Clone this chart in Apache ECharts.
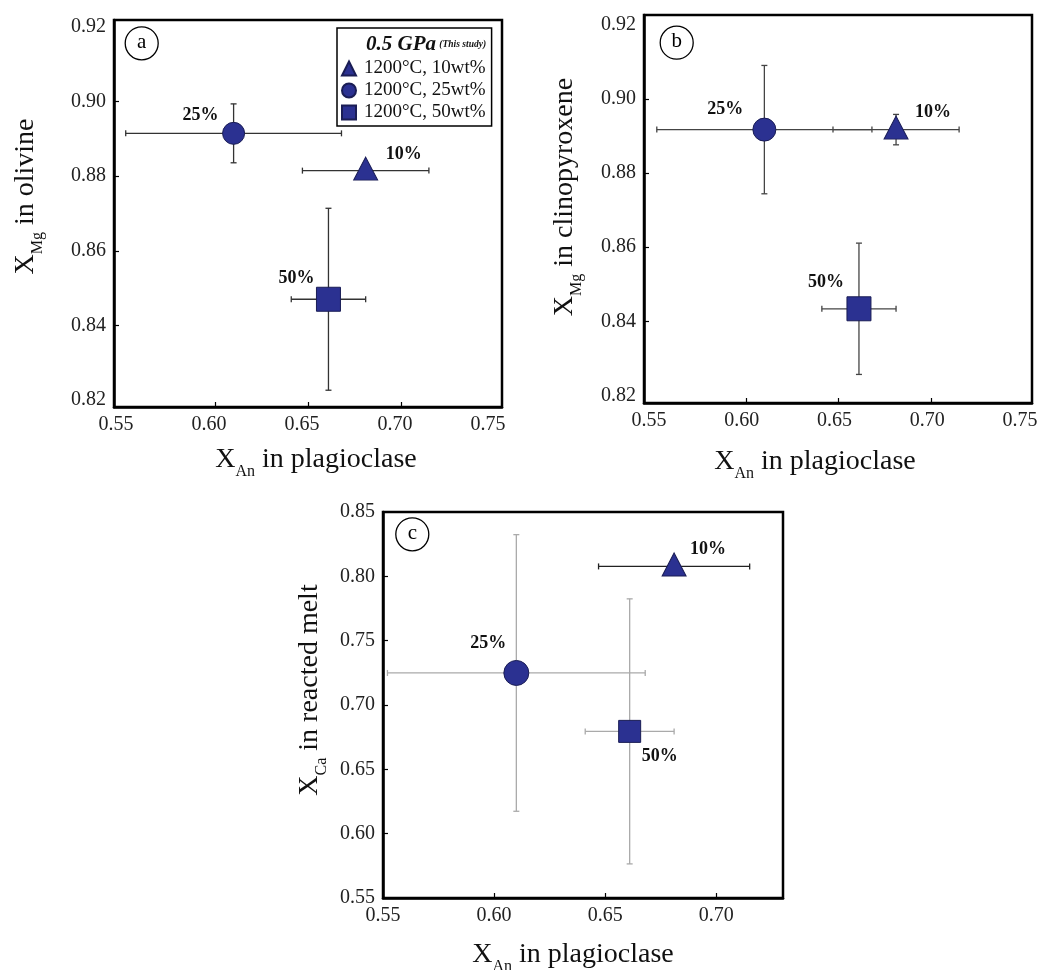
<!DOCTYPE html>
<html>
<head>
<meta charset="utf-8">
<title>XAn in plagioclase vs. XMg / XCa</title>
<script src="https://cdn.jsdelivr.net/npm/echarts@6.0.0/dist/echarts.min.js"></script>
<style>
  html, body { margin: 0; padding: 0; background: #fff; }
  #main { width: 1037px; height: 970px; }
</style>
</head>
<body>
<div id="main"></div>
<script>
  // runs in order: 10wt%, 25wt%, 50wt%
  const runNames = ['1200°C, 10wt%', '1200°C, 25wt%', '1200°C, 50wt%'];
  const runLabels = ['10%', '25%', '50%'];
  const runSymbols = ['triangle', 'circle', 'rect'];

  const xAnPlag = [0.681, 0.610, 0.661];
  const xAnPlagErr = [0.034, 0.058, 0.020];

  const xMgOlivine = [0.8815, 0.8915, 0.8470];
  const xMgOlivineErr = [0, 0.0079, 0.0244];

  const xMgCpx = [0.8917, 0.8917, 0.8434];
  const xMgCpxErr = [0.0041, 0.0173, 0.0177];

  const xCaMelt = [0.8077, 0.7249, 0.6795];
  const xCaMeltErr = [0.002, 0.1075, 0.1030];

  const ticksXab = [0.55, 0.60, 0.65, 0.70, 0.75];
  const ticksYab = [0.82, 0.84, 0.86, 0.88, 0.90, 0.92];
  const ticksXc = [0.55, 0.60, 0.65, 0.70];
  const ticksYc = [0.55, 0.60, 0.65, 0.70, 0.75, 0.80, 0.85];

  const serif = "'Liberation Serif', 'DejaVu Serif', serif";
  const navy = '#2b3191';

  let panels = [
    {
      grid: {left: 114, top: 20, width: 388, height: 387},
      xr: [0.5457, 0.7543], yr: [0.8181, 0.9219],
      xt: ticksXab, yt: ticksYab,
      ys: xMgOlivine, ye: xMgOlivineErr,
      sub: 'Mg', yText: ' in olivine',
      xGap: 33, yGap: 68, xPad: [0, 0, 0, 16], yPad: [0, 0, 0, 34], xlPad: [0, 12, 0, 0],
      sizes: [[24, 23], 22, 24],
      offs: [[38, -14], [-33, -18], [-32, -21]],
      barColors: ['#333', '#333', '#333'],
      letter: 'a', lc: [141.7, 43.3]
    },
    {
      grid: {left: 644, top: 15, width: 388, height: 388},
      xr: [0.5451, 0.7543], yr: [0.8180, 0.9226],
      xt: ticksXab, yt: ticksYab,
      ys: xMgCpx, ye: xMgCpxErr,
      sub: 'Mg', yText: ' in clinopyroxene',
      xGap: 39, yGap: 59, xPad: [0, 46, 0, 0], yPad: [0, 0, 0, 24], xlPad: [0, 8, 0, 0],
      sizes: [[24, 23], 23, 24],
      offs: [[37, -15], [-39, -20], [-33, -26]],
      barColors: ['#444', '#444', '#444'],
      letter: 'b', lc: [676.7, 42.7]
    },
    {
      grid: {left: 383, top: 512, width: 400, height: 386},
      xr: [0.55, 0.73], yr: [0.55, 0.85],
      xt: ticksXc, yt: ticksYc,
      ys: xCaMelt, ye: xCaMeltErr,
      sub: 'Ca', yText: ' in reacted melt',
      xGap: 37, yGap: 53, xPad: [0, 20, 0, 0], yPad: [0, 0, 0, 30], xlPad: [0, 0, 0, 0],
      sizes: [[24, 23], 25, 22],
      offs: [[34, -15], [-28, -30], [30, 25]],
      barColors: ['#222', '#aaa', '#aaa'],
      letter: 'c', lc: [412.3, 534.3]
    }
  ];

  function nameRich() {
    return {
      x: {fontSize: 28, lineHeight: 40, fontFamily: serif, color: '#111'},
      s: {fontSize: 16, lineHeight: 16, verticalAlign: 'bottom', fontFamily: serif, color: '#111'},
      t: {fontSize: 28, lineHeight: 40, fontFamily: serif, color: '#111'}
    };
  }

  function errorBars(params, api) {
    let x = api.value(0), y = api.value(1), ex = api.value(2), ey = api.value(3);
    let st = {stroke: api.visual('color'), lineWidth: 1.3};
    let cap = 3;
    let kids = [];
    if (ex > 0) {
      let l = api.coord([x - ex, y]), r = api.coord([x + ex, y]);
      kids.push({type: 'line', shape: {x1: l[0], y1: l[1], x2: r[0], y2: r[1]}, style: st});
      kids.push({type: 'line', shape: {x1: l[0], y1: l[1] - cap, x2: l[0], y2: l[1] + cap}, style: st});
      kids.push({type: 'line', shape: {x1: r[0], y1: r[1] - cap, x2: r[0], y2: r[1] + cap}, style: st});
    }
    if (ey > 0) {
      let t = api.coord([x, y + ey]), b = api.coord([x, y - ey]);
      kids.push({type: 'line', shape: {x1: t[0], y1: t[1], x2: b[0], y2: b[1]}, style: st});
      kids.push({type: 'line', shape: {x1: t[0] - cap, y1: t[1], x2: t[0] + cap, y2: t[1]}, style: st});
      kids.push({type: 'line', shape: {x1: b[0] - cap, y1: b[1], x2: b[0] + cap, y2: b[1]}, style: st});
    }
    return {type: 'group', children: kids};
  }

  let grids = [], xAxes = [], yAxes = [], series = [], graphics = [];

  panels.forEach(function (p, k) {
    grids.push(Object.assign({
      show: true, borderColor: '#000', borderWidth: 2.5,
      outerBoundsMode: 'none'
    }, p.grid));

    xAxes.push({
      type: 'value', gridIndex: k, min: p.xr[0], max: p.xr[1],
      axisLine: {show: true, lineStyle: {color: '#000', width: 2.5}},
      axisTick: {show: true, inside: true, length: 5, customValues: p.xt.slice(1, 4),
        lineStyle: {color: '#000', width: 1.2}},
      axisLabel: {customValues: p.xt, formatter: v => v.toFixed(2), fontFamily: serif,
        fontSize: 20, color: '#222', margin: 8, padding: p.xlPad},
      splitLine: {show: false},
      name: '{x|X}{s|An}{t| in plagioclase}',
      nameLocation: 'middle', nameGap: p.xGap,
      nameTextStyle: {rich: nameRich(), padding: p.xPad}
    });

    yAxes.push({
      type: 'value', gridIndex: k, min: p.yr[0], max: p.yr[1],
      axisLine: {show: true, lineStyle: {color: '#000', width: 2.5}},
      axisTick: {show: true, inside: true, length: 5, customValues: p.yt.slice(1, -1),
        lineStyle: {color: '#000', width: 1.2}},
      axisLabel: {customValues: p.yt, formatter: v => v.toFixed(2), fontFamily: serif,
        fontSize: 20, color: '#222', margin: 8},
      splitLine: {show: false},
      name: '{x|X}{s|' + p.sub + '}{t|' + p.yText + '}',
      nameLocation: 'middle', nameGap: p.yGap,
      nameTextStyle: {rich: nameRich(), padding: p.yPad}
    });

    // error bars under the markers
    series.push({
      type: 'custom', xAxisIndex: k, yAxisIndex: k, z: 1, silent: true,
      renderItem: errorBars,
      data: xAnPlag.map(function (x, i) {
        return {value: [x, p.ys[i], xAnPlagErr[i], p.ye[i]], itemStyle: {color: p.barColors[i]}};
      })
    });

    runNames.forEach(function (nm, i) {
      series.push({
        type: 'scatter', name: nm, xAxisIndex: k, yAxisIndex: k, z: 3,
        symbol: runSymbols[i], symbolSize: p.sizes[i],
        symbolOffset: i === 0 ? [0, -2] : [0, 0],
        itemStyle: {color: navy, borderColor: '#1a1d55', borderWidth: 1, opacity: 1},
        label: {show: true, position: 'inside', offset: p.offs[i], formatter: runLabels[i],
          fontFamily: serif, fontWeight: 'bold', fontSize: 18, color: '#111'},
        data: [[xAnPlag[i], p.ys[i]]]
      });
    });

    graphics.push({type: 'circle', shape: {cx: p.lc[0], cy: p.lc[1], r: 16.5},
      style: {fill: 'none', stroke: '#000', lineWidth: 1.3}});
    graphics.push({type: 'text', x: p.lc[0], y: p.lc[1] - 1,
      style: {text: p.letter, fontFamily: serif, fontSize: 21, fill: '#000',
        align: 'center', verticalAlign: 'middle'}});
  });

  graphics.push({
    type: 'text', x: 366, y: 45,
    style: {
      text: '{t|0.5 GPa} {s|(This study)}',
      verticalAlign: 'middle',
      rich: {
        t: {fontFamily: serif, fontSize: 21, fontWeight: 'bold', fontStyle: 'italic', fill: '#111'},
        s: {fontFamily: serif, fontSize: 9.5, fontWeight: 'bold', fontStyle: 'italic', fill: '#111'}
      }
    }
  });

  let myChart = echarts.init(document.getElementById('main'));
  myChart.setOption({
    animation: false,
    grid: grids,
    xAxis: xAxes,
    yAxis: yAxes,
    legend: {
      data: runNames, orient: 'vertical', left: 337, top: 28,
      padding: [31, 6, 4, 4], itemWidth: 14, itemHeight: 14, itemGap: 3,
      borderColor: '#000', borderWidth: 1.5, selectedMode: false,
      textStyle: {fontFamily: serif, fontSize: 19, color: '#111', lineHeight: 14, padding: [0, 0, 0, 3]}
    },
    graphic: graphics,
    series: series
  });
  window.onresize = function () {
    myChart.resize();
  };
</script>
</body>
</html>
